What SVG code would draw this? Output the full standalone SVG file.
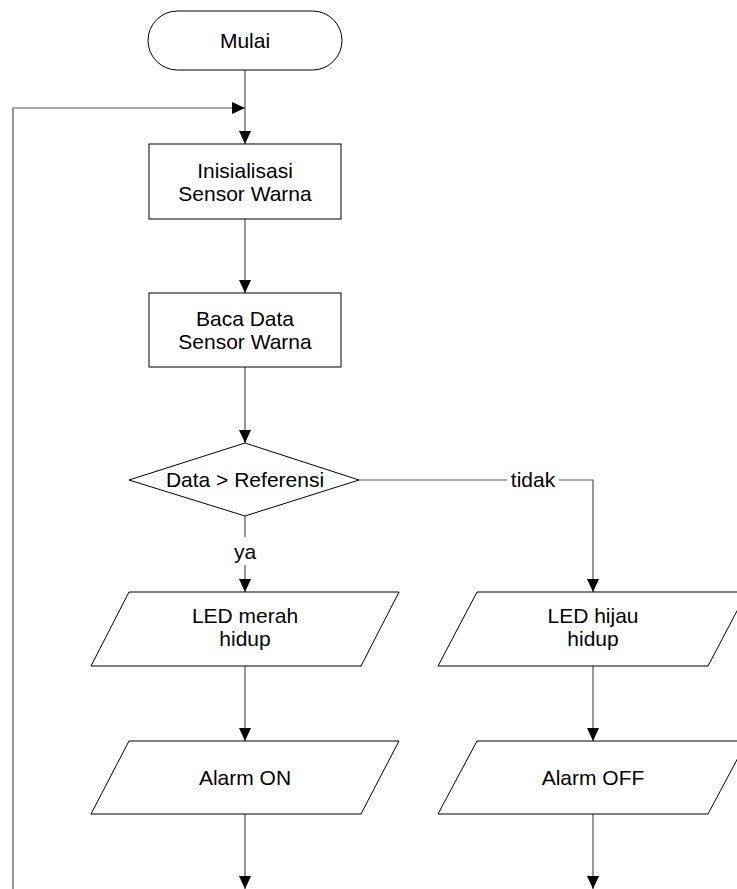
<svg xmlns="http://www.w3.org/2000/svg" width="737" height="889" viewBox="0 0 737 889">
  <style>
    .shape { fill: #ffffff; stroke: #000000; stroke-width: 1; }
    .line { fill: none; stroke: #555555; stroke-width: 1.2; }
    .label { font-family: "Liberation Sans", Arial, sans-serif; font-size: 21px; fill: #000000; text-anchor: middle; }
  </style>
  <defs>
    <marker id="arrow" markerUnits="userSpaceOnUse" markerWidth="14" markerHeight="14" viewBox="0 0 14 14" refX="13" refY="7" orient="auto">
      <path d="M0,1 L13,7 L0,13 Z" fill="#000000"/>
    </marker>
  </defs>
  <rect width="737" height="889" fill="#ffffff"/>

  <!-- connectors -->
  <g id="connectors">
    <line class="line" x1="245" y1="70" x2="245" y2="144" marker-end="url(#arrow)"/>
    <polyline class="line" points="13,889 13,108 245,108" marker-end="url(#arrow)"/>
    <line class="line" x1="245" y1="219" x2="245" y2="293" marker-end="url(#arrow)"/>
    <line class="line" x1="245" y1="367" x2="245" y2="443" marker-end="url(#arrow)"/>
    <!-- yes branch -->
    <line class="line" x1="245" y1="516" x2="245" y2="537"/>
    <line class="line" x1="245" y1="565" x2="245" y2="592" marker-end="url(#arrow)"/>
    <text class="label" x="245" y="559">ya</text>
    <!-- no branch -->
    <line class="line" x1="359" y1="480" x2="507" y2="480"/>
    <polyline class="line" points="559,480 593,480 593,592" marker-end="url(#arrow)"/>
    <text class="label" x="533" y="487">tidak</text>
    <line class="line" x1="245" y1="666" x2="245" y2="741" marker-end="url(#arrow)"/>
    <line class="line" x1="593" y1="666" x2="593" y2="741" marker-end="url(#arrow)"/>
    <line class="line" x1="245" y1="814" x2="245" y2="889" marker-end="url(#arrow)"/>
    <line class="line" x1="593" y1="814" x2="593" y2="889" marker-end="url(#arrow)"/>
  </g>

  <g id="mulai">
    <rect class="shape" x="148" y="11" width="194" height="59" rx="29.5" ry="29.5"/>
    <text class="label" x="245" y="48">Mulai</text>
  </g>

  <g id="inisialisasi">
    <rect class="shape" x="149" y="144" width="192" height="75"/>
    <text class="label" x="245" y="178">Inisialisasi</text>
    <text class="label" x="245" y="201">Sensor Warna</text>
  </g>

  <g id="baca-data">
    <rect class="shape" x="149" y="293" width="192" height="74"/>
    <text class="label" x="245" y="326">Baca Data</text>
    <text class="label" x="245" y="349">Sensor Warna</text>
  </g>

  <g id="keputusan">
    <polygon class="shape" points="245,443 359,480 245,516 129,480"/>
    <text class="label" x="245" y="487">Data &gt; Referensi</text>
  </g>

  <g id="led-merah">
    <polygon class="shape" points="129,592 399,592 361,666 91,666"/>
    <text class="label" x="245" y="623">LED merah</text>
    <text class="label" x="245" y="646">hidup</text>
  </g>

  <g id="led-hijau">
    <polygon class="shape" points="477,592 747,592 708,666 438,666"/>
    <text class="label" x="593" y="623">LED hijau</text>
    <text class="label" x="593" y="646">hidup</text>
  </g>

  <g id="alarm-on">
    <polygon class="shape" points="129,741 399,741 361,814 91,814"/>
    <text class="label" x="245" y="785">Alarm ON</text>
  </g>

  <g id="alarm-off">
    <polygon class="shape" points="477,741 747,741 708,814 438,814"/>
    <text class="label" x="593" y="785">Alarm OFF</text>
  </g>
</svg>
